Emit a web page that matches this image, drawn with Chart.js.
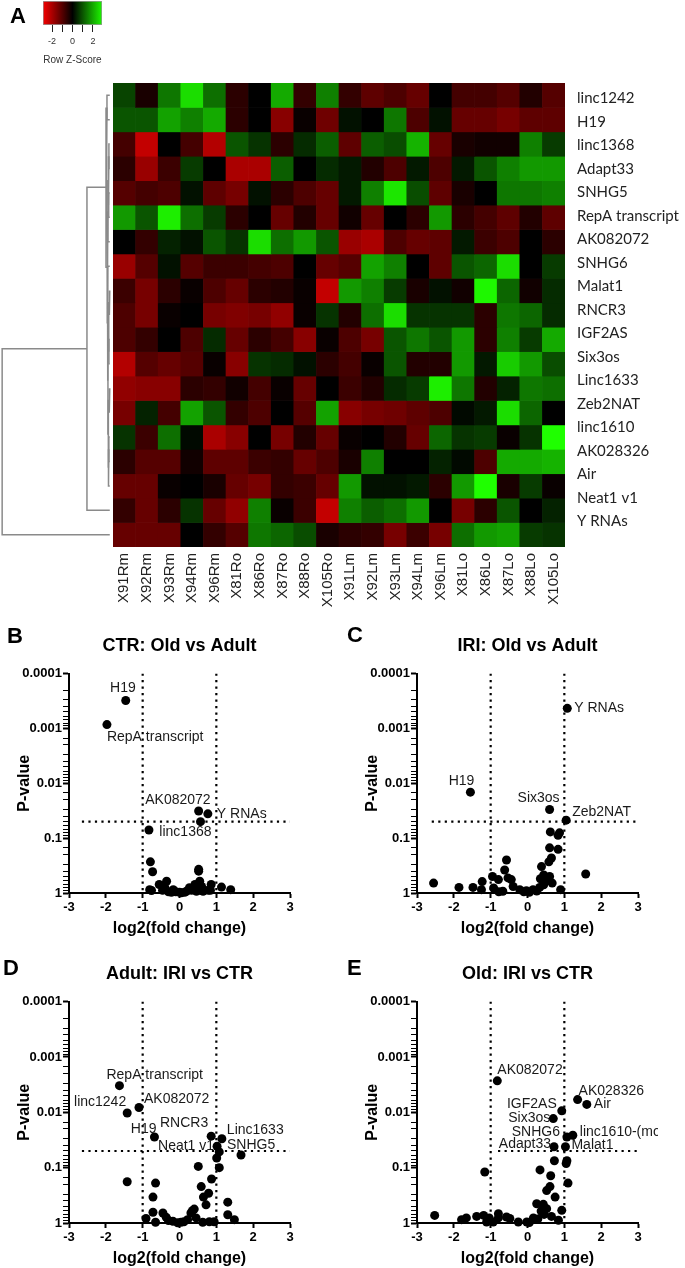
<!DOCTYPE html>
<html>
<head>
<meta charset="utf-8">
<script src="https://cdn.jsdelivr.net/npm/chart.js@4.4.1/dist/chart.umd.min.js"></script>
<style>
  html, body { margin: 0; padding: 0; background: #fff; overflow: hidden; }
  body { width: 685px; height: 1268px; position: relative; font-family: 'Liberation Sans', Arial, sans-serif; }
  .box { position: absolute; }
  .letter { position: absolute; font-weight: bold; font-size: 22px; line-height: 1; color: #000; }
</style>
</head>
<body>
<div class="box" style="left:30px;top:0"><canvas id="key" width="90" height="70"></canvas></div>
<div class="box" style="left:0;top:0"><canvas id="dendro" width="113" height="620"></canvas></div>
<div class="box" style="left:0;top:0"><canvas id="heat" width="685" height="620"></canvas></div>
<div class="box" style="left:0;top:625px"><canvas id="volB" width="310" height="313"></canvas></div>
<div class="box" style="left:348px;top:625px"><canvas id="volC" width="310" height="313"></canvas></div>
<div class="box" style="left:0;top:953px"><canvas id="volD" width="310" height="315"></canvas></div>
<div class="box" style="left:348px;top:953px"><canvas id="volE" width="310" height="315"></canvas></div>
<div class="letter" style="left:10px;top:5px">A</div>
<div class="letter" style="left:7px;top:625px">B</div>
<div class="letter" style="left:347px;top:624px">C</div>
<div class="letter" style="left:3px;top:957px">D</div>
<div class="letter" style="left:347px;top:957px">E</div>
<script>
// ---- heatmap (row z-scores) ----
const heatRows = ['linc1242', 'H19', 'linc1368', 'Adapt33', 'SNHG5', 'RepA transcript', 'AK082072',
  'SNHG6', 'Malat1', 'RNCR3', 'IGF2AS', 'Six3os', 'Linc1633', 'Zeb2NAT', 'linc1610', 'AK028326',
  'Air', 'Neat1 v1', 'Y RNAs'];
const heatCols = ['X91Rm', 'X92Rm', 'X93Rm', 'X94Rm', 'X96Rm', 'X81Ro', 'X86Ro', 'X87Ro', 'X88Ro', 'X105Ro',
  'X91Lm', 'X92Lm', 'X93Lm', 'X94Lm', 'X96Lm', 'X81Lo', 'X86Lo', 'X87Lo', 'X88Lo', 'X105Lo'];
const heatZ = [
  [0.8, -0.3, 1.4, 2.6, 1.3, -0.5, 0, 2.0, -0.6, 1.5, -0.6, -1.1, -0.9, -1.2, 0, -0.8, -0.8, -1.0, -0.4, -1.0],
  [1.0, 1.0, 1.9, 1.5, 2.0, -0.5, 0, -1.6, -0.1, -1.3, 0.2, 0, 1.4, -0.9, 0.2, -1.2, -1.2, -1.4, -1.1, -1.1],
  [-0.8, -2.3, 0, -0.8, -2.1, 1.0, 0.6, -0.5, 0.5, 1.1, -1.1, 1.1, 0.9, 2.1, -1.2, -0.3, -0.2, -0.2, 1.5, 0.7],
  [-0.5, -1.8, -0.7, 0.7, 0, -2.0, -2.0, 1.1, 0, 0.5, 0.3, -0.4, -0.9, 0.3, -0.9, 0.3, 1.0, 1.5, 1.8, 1.8],
  [-1.0, -0.8, -0.9, 0.2, -1.1, -1.4, 0.2, -0.5, -0.9, -1.2, 0.3, 1.5, 2.7, 0.9, -1.1, -0.3, 0, 1.4, 1.4, 1.5],
  [1.8, 1.0, 2.8, 1.3, 0.7, -0.5, 0, -1.2, -0.4, -1.2, -0.2, -1.2, 0, -0.5, 1.8, -0.5, -0.8, -1.1, -0.4, -1.1],
  [0, -0.6, 0.4, 0.2, 1.0, 0.6, 2.6, 1.3, 1.8, 1.0, -1.8, -2.0, -0.9, -1.2, -1.1, 0.3, -0.7, -0.9, 0, -0.5],
  [-1.8, -1.0, 0.2, -1.0, -0.7, -0.7, -0.8, -0.9, 0, -1.2, -1.0, 1.9, 1.5, 0, -1.1, 1.0, 1.2, 2.6, 0, 0.7],
  [-0.7, -1.4, -0.5, -0.1, -0.9, -1.2, -0.5, -0.4, -0.1, -2.3, 1.8, 1.5, 0.7, -0.3, 0.2, -0.2, 2.9, 1.2, -0.2, 0.5],
  [-0.9, -1.4, -0.1, 0, -1.4, -1.5, -1.4, -1.7, -0.1, 0.6, -0.4, 1.3, 2.6, 0.6, 0.6, 0.6, -0.5, 1.4, 1.2, 0.5],
  [-0.9, -0.6, 0, -0.9, 0.5, -1.2, -0.5, -0.8, -1.6, -0.1, -0.9, -1.4, 1.0, 1.4, 1.0, 1.8, -0.5, 1.5, 0.7, 2.0],
  [-2.1, -1.0, -1.2, -1.0, -0.1, -1.6, 0.6, 0.5, 0.2, -0.5, -0.8, -0.1, 1.0, -0.4, -0.4, 1.8, 0.3, 2.4, 1.8, 0.9],
  [-1.7, -1.6, -1.6, -0.5, -0.6, -0.2, -0.8, -0.1, -1.2, 0, -0.7, -0.4, 0.5, 0.7, 2.8, 1.4, -0.4, 0.4, 1.4, 1.3],
  [-1.4, 0.4, -0.8, 1.9, 1.0, -0.6, -0.9, 0, -1.0, 1.9, -1.6, -1.4, -1.3, -1.1, -0.9, 0.1, 0.3, 2.6, 1.2, 0],
  [0.6, -0.7, 1.3, 0.1, -2.0, -1.6, 0, -1.4, -0.4, -1.2, -0.1, 0, -0.4, -1.2, 1.2, 0.6, 0.7, -0.1, 0.6, 3.0],
  [-0.5, -1.0, -1.0, -0.2, -1.1, -1.1, -0.7, -0.6, -1.2, -0.9, -0.3, 1.5, 0, 0, 0.4, 0.1, -0.9, 2.0, 2.0, 2.1],
  [-1.2, -1.2, -0.1, 0, -0.3, -1.2, -1.4, -0.6, -0.7, -1.2, 1.8, 0.2, 0.2, 0.3, -0.5, 1.8, 3.0, -0.3, 0.7, -0.1],
  [-0.6, -1.2, -0.5, 0.6, -1.2, -1.7, 1.5, -0.1, -0.7, -2.3, 1.5, 1.1, 1.3, 1.8, 0, -1.4, -0.5, 1.0, 0, 0.4],
  [-1.2, -1.2, -1.2, 0, -0.6, -1.0, 1.4, 1.2, 0.9, -0.3, -0.5, -0.6, -1.4, -0.7, -1.4, 1.3, 1.8, 1.9, 0.7, 0.6]
];
// row dendrogram, hclust style: negative = row (1-based), positive = earlier merge
const dendroMerge = [
  [-1, -2, 0.026], [-3, -4, 0.008], [-5, -6, 0.010], [2, 3, 0.014], [4, -7, 0.018],
  [-9, -10, 0.006], [-11, -12, 0.008], [6, 7, 0.011], [-13, -14, 0.007], [-15, -16, 0.009],
  [10, -17, 0.012], [9, 11, 0.014], [8, 12, 0.017], [-8, 13, 0.021], [5, 14, 0.024],
  [1, 15, 0.035], [16, -18, 0.212], [17, -19, 1.0]
];
const keyTicks = [-2, -1, 0, 1, 2];

// ---- volcano plots ----
const foldCut = [-1, 1];
const pCut = 0.05;

const bFold = [-1.46, -1.97, 0.52, 0.77, 0.57, -0.83, -0.79, -0.73, -0.81, -0.55, -0.35, -0.40, -0.46, -0.76,
  -0.22, -0.17, 0.0, 0.14, 0.19, 0.33, 0.37, 0.42, 0.46, 0.52, 0.52, 0.55, 0.60, 0.55, 0.64, 0.78, 0.84,
  0.86, 1.14, 1.39, -0.30, -0.10, 0.27, 0.05];
const bP = [0.00031, 0.00085, 0.032, 0.036, 0.05, 0.071, 0.27, 0.41, 0.87, 0.70, 0.61, 0.79, 0.89, 0.90,
  0.97, 0.87, 0.97, 0.97, 0.93, 0.89, 0.81, 0.70, 0.93, 0.37, 0.40, 0.61, 0.76, 0.89, 0.93, 0.89, 0.89,
  0.70, 0.78, 0.87, 0.95, 0.95, 0.80, 0.99];
const bNames = ['H19', 'RepA transcript', 'AK082072', 'Y RNAs', 'linc1368'];

const cFold = [1.08, -1.55, 0.60, 1.05, 0.62, 0.83, 0.87, 0.60, 0.83, 0.65, 0.58, 0.38, 0.44, 0.60, 0.67,
  0.44, 0.33, 0.15, -0.03, -0.21, -0.39, -0.44, -0.57, -0.62, -0.53, -0.79, -0.95, -0.92, -0.67, -0.78,
  -1.23, -1.25, -1.48, -1.86, -2.55, 1.58, 0.90, 0.05, 0.25, 0.50, -0.10, 0.35];
const cP = [0.00043, 0.0145, 0.030, 0.047, 0.077, 0.089, 0.080, 0.15, 0.16, 0.23, 0.27, 0.33, 0.47, 0.50,
  0.66, 0.71, 0.79, 0.87, 0.91, 0.87, 0.76, 0.57, 0.25, 0.38, 0.53, 0.57, 0.50, 0.81, 0.93, 0.95, 0.62,
  0.87, 0.79, 0.79, 0.66, 0.45, 0.87, 0.97, 0.92, 0.60, 0.95, 0.55];
const cNames = ['Y RNAs', 'H19', 'Six3os', 'Zeb2NAT'];

const dFold = [-1.63, -1.42, -1.10, -0.68, 0.86, 1.15, 1.02, 1.67, 1.08, 1.01, 1.08, 0.51, 0.87, 0.59, 0.65,
  0.79, 0.72, 1.31, 1.31, 1.49, -1.42, -0.65, -0.72, -0.91, -0.65, -0.72, -0.45, -0.36, -0.18, 0.04, 0.22,
  0.31, 0.40, 0.45, 0.63, 0.81, 0.94, -0.05, 0.12, -0.30, 0.35];
const dP = [0.0033, 0.0103, 0.0082, 0.028, 0.027, 0.030, 0.041, 0.059, 0.052, 0.067, 0.10, 0.095, 0.16, 0.22,
  0.34, 0.29, 0.47, 0.42, 0.71, 0.87, 0.18, 0.19, 0.34, 0.83, 0.97, 0.64, 0.66, 0.79, 0.93, 0.97, 0.87,
  0.66, 0.56, 0.81, 0.97, 0.95, 0.95, 0.99, 0.95, 0.90, 0.60];
const dNames = ['RepA transcript', 'linc1242', 'AK082072', 'H19', 'RNCR3', 'Linc1633', 'Neat1 v1', 'SNHG5'];

const eFold = [-0.82, 1.36, 1.61, 0.93, 0.70, 1.23, 1.07, 1.03, 0.72, 1.07, 1.05, 0.73, -1.16, 0.34, 0.63,
  1.10, 0.61, 0.52, 0.75, 0.25, 0.43, 0.52, 0.37, 0.65, 0.93, 0.84, 0.16, -0.02, -0.25, -0.48, -0.57,
  -0.79, -0.79, -1.04, -1.11, -0.93, -1.19, -1.38, -1.66, -1.79, -2.52, 0.05, 0.28, 0.45];
const eP = [0.0027, 0.0059, 0.0072, 0.0094, 0.013, 0.026, 0.028, 0.042, 0.042, 0.075, 0.084, 0.075, 0.12,
  0.11, 0.14, 0.19, 0.22, 0.26, 0.34, 0.45, 0.46, 0.55, 0.61, 0.76, 0.59, 0.89, 0.81, 0.96, 0.96, 0.83,
  0.78, 0.68, 0.81, 0.81, 0.96, 0.96, 0.73, 0.76, 0.81, 0.87, 0.73, 0.98, 0.85, 0.70];
const eNames = ['AK082072', 'AK028326', 'Air', 'IGF2AS', 'Six3os', 'linc1610-(mouse)', 'SNHG6', 'Malat1', 'Adapt33'];

// label offsets from their point: [dx, dy, align]
const bPlace = { 'H19': [10, -12, 'right'], 'RepA transcript': [0, 13, 'left'], 'AK082072': [12, -11, 'right'],
  'Y RNAs': [9, 0, 'left'], 'linc1368': [11, 11, 'right'] };
const cPlace = { 'Y RNAs': [7, 0, 'left'], 'H19': [4, -11, 'right'], 'Six3os': [10, -11, 'right'],
  'Zeb2NAT': [6, -8, 'left'] };
const dPlace = { 'RepA transcript': [-13, -11, 'left'], 'linc1242': [-1, -11, 'right'], 'AK082072': [5, -8, 'left'],
  'H19': [2, -8, 'right'], 'RNCR3': [-3, -13, 'right'], 'Linc1633': [5, -9, 'left'],
  'Neat1 v1': [-3, 0, 'right'], 'SNHG5': [-14, -10, 'left'] };
const ePlace = { 'AK082072': [0, -11, 'left'], 'AK028326': [1, -8, 'left'], 'Air': [7, 0, 'left'],
  'IGF2AS': [-5, -7, 'right'], 'Six3os': [-3, 0, 'right'], 'SNHG6': [-7, -5, 'right'],
  'linc1610-(mouse)': [7, -3, 'left'], 'Adapt33': [-3, -3, 'right'], 'Malat1': [6, -2, 'left'] };

Chart.defaults.font.family = "'Liberation Sans', Arial, sans-serif";
Chart.defaults.color = '#000';

function zColor(z) {
  const t = Math.min(Math.abs(z), 3) / 3;
  if (z < 0) return `rgb(${Math.round(255 * t)},0,0)`;
  const g = 255 * t;
  return `rgb(${Math.round(0.12 * g)},${Math.round(g)},0)`;
}

const noInteraction = { animation: false, events: [], responsive: false };

// colour key
new Chart(document.getElementById('key'), {
  type: 'bar',
  data: {
    labels: [''],
    datasets: [{
      data: [[-2.88, 2.88]],
      backgroundColor: (c) => {
        const a = c.chart.chartArea;
        if (!a) return '#000';
        const g = c.chart.ctx.createLinearGradient(a.left, 0, a.right, 0);
        g.addColorStop(0, zColor(-2.88));
        g.addColorStop(0.5, zColor(0));
        g.addColorStop(1, zColor(2.88));
        return g;
      },
      borderColor: '#999', borderWidth: 1, borderSkipped: false,
      barPercentage: 1, categoryPercentage: 1
    }]
  },
  options: {
    ...noInteraction,
    indexAxis: 'y',
    layout: { padding: { left: 13, right: 18, top: 1, bottom: 0 } },
    plugins: { legend: { display: false }, tooltip: { enabled: false } },
    scales: {
      x: {
        type: 'linear', min: -2.88, max: 2.88,
        afterBuildTicks: s => { s.ticks = keyTicks.map(v => ({ value: v })); },
        afterFit: s => { s.height = 45; },
        grid: { drawOnChartArea: false, tickLength: 7, tickColor: '#222', tickWidth: 1 },
        border: { display: false },
        ticks: { font: { size: 9 }, color: '#333', padding: 4, callback: v => (v % 2 === 0 ? String(v) : '') },
        title: { display: true, text: 'Row Z-Score', font: { size: 10 }, color: '#333', padding: { top: 0, bottom: 4 } }
      },
      y: { display: false }
    }
  }
});

// dendrogram: x runs from the root (left) to the leaves (right), as minus the merge height
function dendroLines() {
  const pos = [];
  const node = k => (k < 0 ? { y: -k - 0.5, h: 0 } : pos[k - 1]);
  return dendroMerge.map(([a, b, h]) => {
    const A = node(a), B = node(b);
    pos.push({ y: (A.y + B.y) / 2, h });
    return [{ x: -A.h, y: A.y }, { x: -h, y: A.y }, { x: -h, y: B.y }, { x: -B.h, y: B.y }];
  });
}

new Chart(document.getElementById('dendro'), {
  type: 'scatter',
  data: {
    datasets: dendroLines().map(seg => ({
      data: seg, showLine: true, pointRadius: 0, borderColor: '#8a8a8a', borderWidth: 1.5, clip: false
    }))
  },
  options: {
    ...noInteraction,
    layout: { padding: { top: 83, bottom: 73, left: 0, right: 0 } },
    plugins: { legend: { display: false }, tooltip: { enabled: false } },
    scales: {
      x: { type: 'linear', display: false, min: -1.02, max: 0.03 },
      y: { type: 'linear', display: false, reverse: true, min: 0, max: 19 }
    }
  }
});

// heatmap as stacked unit bars, coloured by z-score
new Chart(document.getElementById('heat'), {
  type: 'bar',
  data: {
    labels: heatCols,
    datasets: heatZ.map((row, r) => ({
      label: heatRows[r],
      data: row.map(() => 1),
      backgroundColor: row.map(zColor),
      borderWidth: 0, barPercentage: 1, categoryPercentage: 1
    }))
  },
  options: {
    ...noInteraction,
    layout: { padding: { left: 113, top: 83, right: 0, bottom: 0 } },
    plugins: { legend: { display: false }, tooltip: { enabled: false } },
    scales: {
      x: {
        stacked: true,
        afterFit: s => { s.height = 73; },
        grid: { display: false, drawTicks: false },
        border: { display: false },
        ticks: { autoSkip: false, minRotation: 90, maxRotation: 90, padding: 6, font: { size: 15 }, color: '#222' }
      },
      y: { stacked: true, display: false, reverse: true, min: 0, max: 19 },
      yr: {
        type: 'linear', position: 'right', reverse: true, min: -0.651, max: 19.094,
        afterBuildTicks: s => { s.ticks = heatRows.map((_, i) => ({ value: i })); },
        afterFit: s => { s.width = 120; },
        grid: { display: false, drawTicks: false },
        border: { display: false },
        ticks: { autoSkip: false, padding: 12, font: { family: 'Lato', size: 15 }, color: '#222', callback: v => heatRows[v] }
      }
    }
  }
});

// volcano plots
const isPow10 = v => { const l = Math.log10(v); return Math.abs(l - Math.round(l)) < 1e-9; };

function labelPlugin(names, place) {
  return {
    id: 'ptLabels',
    afterDatasetsDraw(chart) {
      const meta = chart.getDatasetMeta(0), ctx = chart.ctx;
      ctx.save();
      ctx.font = "14px 'Liberation Sans', Arial, sans-serif";
      ctx.fillStyle = '#1a1a1a';
      ctx.textBaseline = 'middle';
      names.forEach((n, i) => {
        const p = meta.data[i], [dx, dy, al] = place[n];
        ctx.textAlign = al;
        ctx.fillText(n, p.x + dx, p.y + dy);
      });
      ctx.restore();
    }
  };
}

function volcano(id, title, fold, pval, names, place, hStart) {
  const dotted = { showLine: true, pointRadius: 0, borderColor: '#000', borderWidth: 2.2, borderDash: [2.2, 4.3], order: 1 };
  new Chart(document.getElementById(id), {
    type: 'scatter',
    data: {
      datasets: [
        { data: fold.map((x, i) => ({ x, y: pval[i] })), backgroundColor: '#000', borderWidth: 0, pointRadius: 4.5, clip: false, order: 0 },
        ...foldCut.map(c => ({ data: [{ x: c, y: 1e-4 }, { x: c, y: 1 }], ...dotted })),
        { data: [{ x: hStart, y: pCut }, { x: 3, y: pCut }], ...dotted }
      ]
    },
    options: {
      ...noInteraction,
      layout: { padding: { left: 0, right: 20, top: 0, bottom: 0 } },
      plugins: {
        legend: { display: false }, tooltip: { enabled: false },
        title: { display: true, text: title, fullSize: false, font: { size: 18, weight: 'bold' }, color: '#000', padding: { top: 10, bottom: 17 } }
      },
      scales: {
        x: {
          type: 'linear', min: -3, max: 3,
          afterFit: s => { s.height = 45; },
          ticks: { stepSize: 1, font: { size: 13, weight: 'bold' }, color: '#000', padding: 2 },
          grid: { drawOnChartArea: false, tickLength: 5, tickWidth: 2, tickColor: '#000' },
          border: { color: '#000', width: 2 },
          title: { display: true, text: 'log2(fold change)', font: { size: 16, weight: 'bold' }, color: '#000', padding: 0 }
        },
        y: {
          type: 'logarithmic', min: 1e-4, max: 1, reverse: true,
          afterFit: s => { s.width = 69; },
          ticks: { autoSkip: false, font: { size: 13, weight: 'bold' }, color: '#000', padding: 1,
            callback: v => (isPow10(v) ? String(+Number(v).toPrecision(1)) : '') },
          grid: { drawOnChartArea: false, tickLength: 6, tickColor: '#000',
            tickWidth: c => (c.tick && isPow10(c.tick.value) ? 2 : 1) },
          border: { color: '#000', width: 2 },
          title: { display: true, text: 'P-value', font: { size: 16, weight: 'bold' }, color: '#000', padding: { top: 15, bottom: 0 } }
        }
      }
    },
    plugins: [labelPlugin(names, place)]
  });
}

volcano('volB', 'CTR: Old vs Adult', bFold, bP, bNames, bPlace, -2.65);
volcano('volC', 'IRI: Old vs Adult', cFold, cP, cNames, cPlace, -2.6);
volcano('volD', 'Adult: IRI vs CTR', dFold, dP, dNames, dPlace, -2.65);
volcano('volE', 'Old: IRI vs CTR', eFold, eP, eNames, ePlace, -0.8);
</script>
</body>
</html>
